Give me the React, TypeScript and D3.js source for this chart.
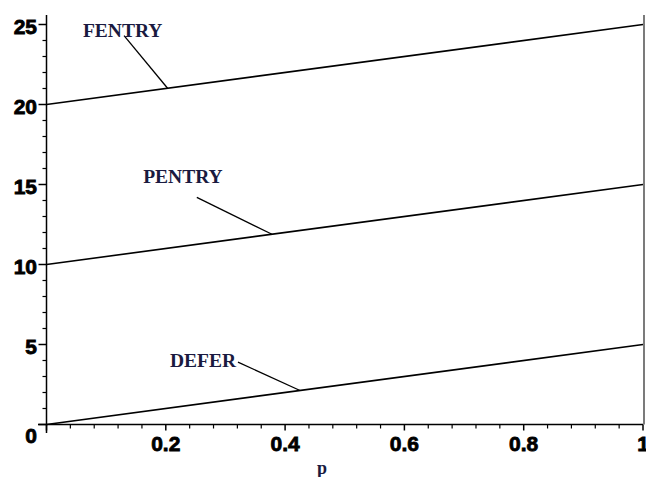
import React from "react";
import * as d3 from "d3";

const pValues = [0, 1];
const seriesNames = ["FENTRY", "PENTRY", "DEFER"];
const seriesStart = [20, 10, 0];
const seriesEnd = [25, 15, 5];
const xTicks = [0.2, 0.4, 0.6, 0.8, 1];
const yTicks = [0, 5, 10, 15, 20, 25];
// label anchors in data coordinates: [textX, textY, leaderStartX, leaderStartY, leaderEndX]
const labelTextX = [0.061, 0.162, 0.207];
const labelTextY = [24.2, 15.1, 3.6];
const leaderStartX = [0.13, 0.252, 0.321];
const leaderStartY = [24.3, 14.2, 3.9];
const leaderEndX = [0.203, 0.378, 0.425];

const W = 646;
const H = 477;

export default function App() {
  const x = d3.scaleLinear().domain([0, 1]).range([46.5, 643]);
  const y = d3.scaleLinear().domain([0, 25]).range([424.5, 24.5]);
  const line = d3
    .line<number[]>()
    .x((d) => x(d[0]))
    .y((d) => y(d[1]));

  const xMinor = d3.range(0, 1.0001, 0.04).filter((v) => Math.abs(v / 0.2 - Math.round(v / 0.2)) > 1e-6);
  const yMinor = d3.range(0, 25.0001, 1).filter((v) => v % 5 !== 0);

  const tickFont = {
    fontFamily: "'Liberation Sans', Arial, sans-serif",
    fontWeight: 700 as const,
    fontSize: 21,
    fill: "#000",
    stroke: "#000",
    strokeWidth: 0.8,
  };
  const labelFont = {
    fontFamily: "'Liberation Serif', 'Times New Roman', serif",
    fontWeight: 700 as const,
    fontSize: 19.5,
    fill: "#1a1a40",
  };

  return (
    <div style={{ position: "fixed", left: 0, top: 0 }}>
      <svg width={W} height={H} style={{ display: "block", background: "#fff" }}>
        {/* axes */}
        <line x1={x(0)} x2={x(0)} y1={15} y2={433} stroke="#000" strokeWidth={1.5} />
        <line x1={38} x2={x(1)} y1={y(0)} y2={y(0)} stroke="#000" strokeWidth={1.5} />
        <line x1={644} x2={644} y1={15} y2={y(0)} stroke="#222" strokeWidth={1.2} />
        {/* y ticks */}
        {yTicks.map((t) => (
          <line key={"ym" + t} x1={x(0) - 8} x2={x(0)} y1={y(t)} y2={y(t)} stroke="#000" strokeWidth={1.5} />
        ))}
        {yMinor.map((t) => (
          <line key={"yn" + t} x1={x(0) - 4} x2={x(0)} y1={y(t)} y2={y(t)} stroke="#000" strokeWidth={1.2} />
        ))}
        {/* x ticks */}
        {[0, ...xTicks].map((t) => (
          <line key={"xm" + t} x1={x(t)} x2={x(t)} y1={y(0)} y2={y(0) + 6} stroke="#000" strokeWidth={1.5} />
        ))}
        {xMinor.map((t) => (
          <line key={"xn" + t} x1={x(t)} x2={x(t)} y1={y(0)} y2={y(0) + 4} stroke="#000" strokeWidth={1.2} />
        ))}
        {/* y tick labels */}
        {yTicks.map((t) =>
          t === 0 ? (
            <text key={"yl" + t} x={37} y={442.5} textAnchor="end" {...tickFont}>
              {t}
            </text>
          ) : (
            <text key={"yl" + t} x={37} y={y(t) + 9.5} textAnchor="end" {...tickFont}>
              {t}
            </text>
          )
        )}
        {/* x tick labels */}
        {xTicks.map((t) => (
          <text key={"xl" + t} x={x(t)} y={451} textAnchor="middle" {...tickFont}>
            {t}
          </text>
        ))}
        {/* x axis title */}
        <text x={322} y={474} textAnchor="middle" {...labelFont} fontSize={18}>
          p
        </text>
        {/* series lines */}
        {seriesNames.map((name, i) => (
          <path
            key={name}
            d={line(pValues.map((p, j) => [p, j === 0 ? seriesStart[i] : seriesEnd[i]])) || ""}
            fill="none"
            stroke="#000"
            strokeWidth={1.6}
          />
        ))}
        {/* labels with leaders */}
        {seriesNames.map((name, i) => {
          const endY = seriesStart[i] + (seriesEnd[i] - seriesStart[i]) * leaderEndX[i];
          return (
            <g key={"lab" + name}>
              <line
                x1={x(leaderStartX[i])}
                y1={y(leaderStartY[i])}
                x2={x(leaderEndX[i])}
                y2={y(endY)}
                stroke="#000"
                strokeWidth={1.3}
              />
              <text x={x(labelTextX[i])} y={y(labelTextY[i])} {...labelFont}>
                {name}
              </text>
            </g>
          );
        })}
      </svg>
    </div>
  );
}
